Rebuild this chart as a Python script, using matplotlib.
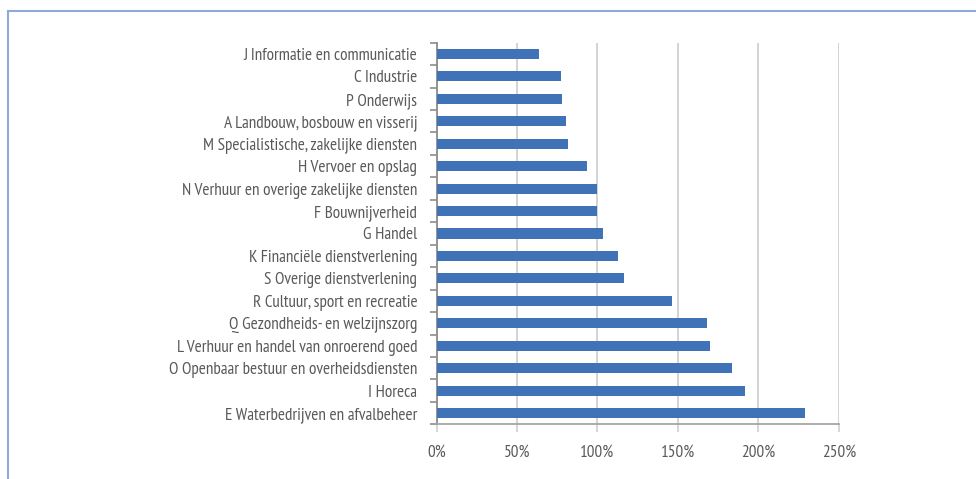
import matplotlib
matplotlib.use("Agg")
import matplotlib.pyplot as plt
from matplotlib.lines import Line2D
from matplotlib.ticker import FixedLocator, FuncFormatter

categories = [
    "J Informatie en communicatie",
    "C Industrie",
    "P Onderwijs",
    "A Landbouw, bosbouw en visserij",
    "M Specialistische, zakelijke diensten",
    "H Vervoer en opslag",
    "N Verhuur en overige zakelijke diensten",
    "F Bouwnijverheid",
    "G Handel",
    "K Financiële dienstverlening",
    "S Overige dienstverlening",
    "R Cultuur, sport en recreatie",
    "Q Gezondheids- en welzijnszorg",
    "L Verhuur en handel van onroerend goed",
    "O Openbaar bestuur en overheidsdiensten",
    "I Horeca",
    "E Waterbedrijven en afvalbeheer",
]
values = [63.5, 77.2, 77.8, 80.3, 81.6, 93.4, 99.6, 99.6, 103.3, 112.6, 116.4,
          146.2, 167.9, 169.8, 183.4, 191.5, 228.8]
xticks = [0, 50, 100, 150, 200, 250]

font = ['PT Sans Narrow', 'DejaVu Sans']
txt = '#595959'

fig = plt.figure(figsize=(9.76, 4.79), dpi=100)
ax = fig.add_axes([0.4474, 0.1142, 0.4119, 0.7967])

pos = list(range(len(categories)))
ax.barh(pos, values, height=0.45, color='#4072B8', zorder=3)
ax.set_ylim(len(categories) - 0.5, -0.5)
ax.set_xlim(0, 250)

ax.set_yticks(pos)
ax.set_yticklabels(categories, fontsize=12.3, color=txt, family=font)
ax.tick_params(axis='y', which='major', length=0, pad=14)
ax.yaxis.set_minor_locator(FixedLocator([p - 0.5 for p in pos] + [len(pos) - 0.5]))
ax.tick_params(axis='y', which='minor', length=5, width=1.2, color='#8C8C8C')

ax.set_xticks(xticks)
ax.xaxis.set_major_formatter(FuncFormatter(lambda v, p: f"{int(v)}%"))
for lab in ax.get_xticklabels():
    lab.set_family(font)
ax.tick_params(axis='x', labelsize=12.3, labelcolor=txt, length=6, width=1.2,
               color='#D0D0D0', pad=9)

ax.grid(axis='x', color='#D0D0D0', linewidth=1.3, zorder=0)
for s in ['top', 'right']:
    ax.spines[s].set_visible(False)
ax.spines['left'].set_color('#8C8C8C')
ax.spines['left'].set_linewidth(1.3)
ax.spines['bottom'].set_color('#A6A6A6')
ax.spines['bottom'].set_linewidth(1.3)

fig.add_artist(Line2D([7.5 / 976, 7.5 / 976], [0, 1 - 10.5 / 479], transform=fig.transFigure,
                      color='#8EA9DB', linewidth=1.5))
fig.add_artist(Line2D([7.5 / 976, 1], [1 - 10.5 / 479, 1 - 10.5 / 479], transform=fig.transFigure,
                      color='#8EA9DB', linewidth=1.5))

fig.savefig('out.png', dpi=100)
